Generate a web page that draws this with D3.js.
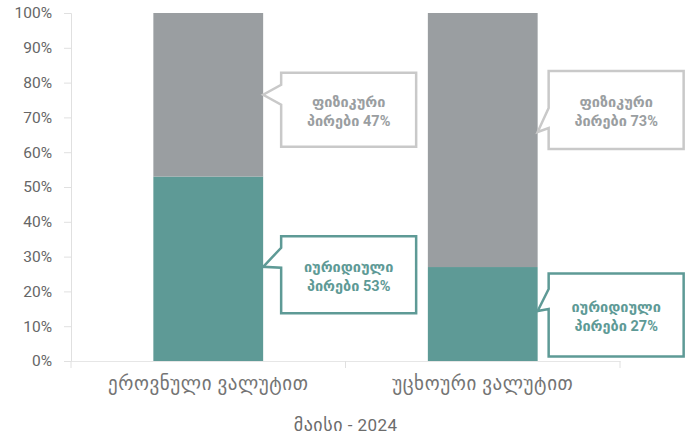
<!DOCTYPE html>
<html>
<head>
<meta charset="utf-8">
<script src="https://cdn.jsdelivr.net/npm/d3@7"></script>
<style>
  body { margin: 0; background: #fff; }
  text { font-family: Roboto, "DejaVu Sans", sans-serif; }
</style>
</head>
<body>
<svg width="694" height="439"></svg>
<script>
// chart data
const categories = ["ეროვნული ვალუტით", "უცხოური ვალუტით"];
const legalShare = [53, 27];      // იურიდიული პირები
const physicalShare = [47, 73];   // ფიზიკური პირები
const yTicks = [0, 10, 20, 30, 40, 50, 60, 70, 80, 90, 100];
const axisTitle = ["მაისი", " - 2024"];

const teal = "#5e9a96";
const gray = "#9a9ea1";
const grayBorder = "#c9c9c9";

const svg = d3.select("svg");

// scales
const x = d3.scaleBand()
  .domain(categories)
  .range([71, 620])
  .paddingInner(0.6)
  .paddingOuter(0.3);
const y = d3.scaleLinear().domain([0, 100]).range([361, 13]);

// axes
const yAxis = svg.append("g")
  .attr("transform", "translate(71,0)")
  .call(d3.axisLeft(y).tickValues(yTicks).tickSize(7).tickPadding(12).tickFormat(d => d + "%"));
yAxis.select(".domain").attr("stroke", "#e0e0e0");
yAxis.selectAll(".tick line").attr("stroke", "#e0e0e0");
yAxis.selectAll(".tick text")
  .attr("fill", "#666").attr("font-size", 15.5)
  .attr("font-family", "Roboto, sans-serif");

const xAxis = svg.append("g")
  .attr("transform", "translate(0,361)")
  .call(d3.axisBottom(x).tickSize(0).tickPadding(16));
xAxis.select(".domain").attr("stroke", "#e6e6e6");
xAxis.selectAll(".tick text")
  .attr("fill", "#747474").attr("font-size", 19)
  .attr("letter-spacing", 0.6)
  .attr("font-family", "'DejaVu Sans', sans-serif");
// ticks between categories
const bandEdges = [71].concat(categories.map(c => x(c) - x.step() * 0.3 + x.step()));
svg.append("g").selectAll("line").data(bandEdges).join("line")
  .attr("x1", d => d).attr("x2", d => d)
  .attr("y1", 361).attr("y2", 368)
  .attr("stroke", "#e0e0e0");

const title = svg.append("text")
  .attr("x", (71 + 620) / 2).attr("y", 431)
  .attr("text-anchor", "middle")
  .attr("fill", "#6c6c6c");
title.append("tspan").attr("font-size", 18).attr("letter-spacing", 0.6)
  .attr("font-family", "'DejaVu Sans', sans-serif").text(axisTitle[0]);
title.append("tspan").attr("font-size", 17).attr("letter-spacing", 0.4)
  .attr("font-family", "Roboto, sans-serif").text(axisTitle[1]);

// stacked bars
const stackRows = categories.map((c, i) => ({ cat: c, legal: legalShare[i], physical: physicalShare[i] }));
const stacked = d3.stack().keys(["legal", "physical"])(stackRows);
const colors = { legal: teal, physical: gray };

svg.append("g").selectAll("g").data(stacked).join("g")
  .attr("fill", s => colors[s.key])
  .selectAll("rect").data(s => s).join("rect")
  .attr("x", d => x(d.data.cat))
  .attr("width", x.bandwidth())
  .attr("y", d => y(d[1]))
  .attr("height", d => y(d[0]) - y(d[1]));

// callout layout tweaks (offsets from segment middle), not data
const calloutLayout = {
  physical: [
    { dx: 18, tipDy: 0, baseDy: 0, boxDy: 15, h: 74 },
    { dx: 11, tipDy: -8, baseDy: -22, boxDy: -30, h: 78 }
  ],
  legal: [
    { dx: 18, tipDy: -2, baseDy: -11, boxDy: 6, h: 77 },
    { dx: 11, tipDy: -3, baseDy: -15, boxDy: 1, h: 83 }
  ]
};
const labelNames = { legal: "იურიდიული", physical: "ფიზიკური" };

stacked.forEach(s => {
  s.forEach((d, i) => {
    const lay = calloutLayout[s.key][i];
    const right = x(d.data.cat) + x.bandwidth();
    const mid = (y(d[0]) + y(d[1])) / 2;
    const tipX = right, tipY = mid + lay.tipDy;
    const left = right + lay.dx, w = 135;
    const cy = mid + lay.boxDy;
    const top = cy - lay.h / 2, bottom = cy + lay.h / 2;
    const bc = mid + lay.baseDy;
    const stroke = s.key === "legal" ? teal : grayBorder;
    const txt = s.key === "legal" ? teal : gray;
    const path = d3.path();
    path.moveTo(left, top);
    path.lineTo(left + w, top);
    path.lineTo(left + w, bottom);
    path.lineTo(left, bottom);
    path.lineTo(left, bc + 10);
    path.lineTo(tipX, tipY);
    path.lineTo(left, bc - 10);
    path.closePath();
    svg.append("path")
      .attr("d", path.toString())
      .attr("fill", "#fff")
      .attr("stroke", stroke)
      .attr("stroke-width", 2.5)
      .attr("stroke-linejoin", "miter");
    const t = svg.append("text")
      .attr("text-anchor", "middle")
      .attr("fill", txt)
      .attr("font-size", 14.5)
      .attr("font-weight", "bold");
    t.append("tspan").attr("x", left + w / 2).attr("y", cy - 3).text(labelNames[s.key]);
    t.append("tspan").attr("x", left + w / 2).attr("y", cy + 16).text("პირები " + (d[1] - d[0]) + "%");
  });
});
</script>
</body>
</html>
